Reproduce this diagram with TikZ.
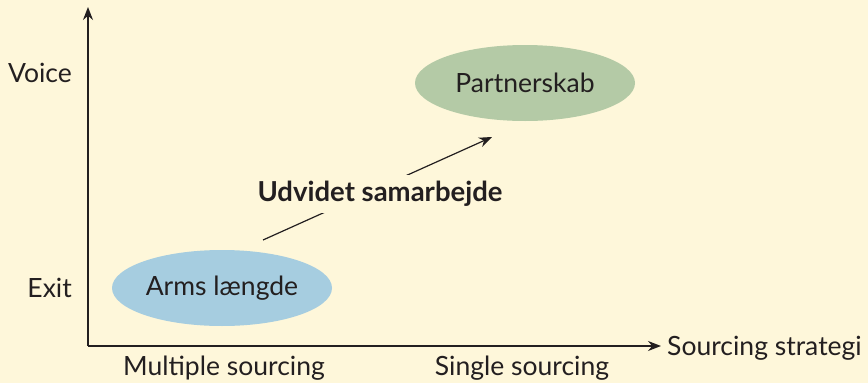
\documentclass[tikz,border=0pt]{standalone}
\usepackage{fontspec}
\setmainfont{Lato}
\usetikzlibrary{shapes.geometric,arrows.meta}
\definecolor{bgcream}{HTML}{FEF7DA}
\definecolor{inkdark}{HTML}{231F20}
\definecolor{armsblue}{HTML}{A6CDE0}
\definecolor{partgreen}{HTML}{B4CAA6}
\tikzset{
  axisline/.style={draw=inkdark, line width=1.3pt, -{Stealth[length=13pt,width=10pt]}},
  flowline/.style={draw=inkdark, line width=1.2pt, -{Stealth[length=13pt,width=10pt]}},
  blob/.style={ellipse, minimum width=220pt, minimum height=76pt, inner sep=0pt,
    font=\fontsize{26.5}{30}\selectfont, text=inkdark},
  lbl/.style={font=\fontsize{26.5}{30}\selectfont, text=inkdark, inner sep=0pt},
}
\begin{document}
\begin{tikzpicture}[x=1pt, y=-1pt]
  \useasboundingbox[fill=bgcream] (0,0) rectangle (868,383);

  % axes
  \coordinate (origin) at (88,346);
  \coordinate (ytop) at (88,7);
  \coordinate (xend) at (661,346);
  \draw[axisline] (origin) -- (ytop);
  \draw[axisline] (origin) -- (xend);

  % axis labels
  \node[lbl, anchor=base east] (voice) at (72,82) {Voice};
  \node[lbl, anchor=base east] (exit) at (72,297) {Exit};
  \node[lbl, anchor=base] (multi) at (224,375) {Multiple sourcing};
  \node[lbl, anchor=base] (single) at (522,375) {Single sourcing};
  \node[lbl, anchor=base west] (xlabel) at (667,355) {Sourcing strategi};

  % relationship types
  \node[blob, fill=armsblue] (arms) at (222,288) {Arms længde};
  \node[blob, fill=partgreen] (partner) at (525,83) {Partnerskab};

  % development arrow, interrupted by its label
  \coordinate (from) at (263,240);
  \coordinate (to) at (492,137);
  \draw[flowline] (from) -- (to);
  \node[lbl, font=\fontsize{27.5}{31}\selectfont\bfseries, fill=bgcream,
        inner xsep=2pt, inner ysep=6pt] (udv) at (380,194) {Udvidet samarbejde};
\end{tikzpicture}
\end{document}
